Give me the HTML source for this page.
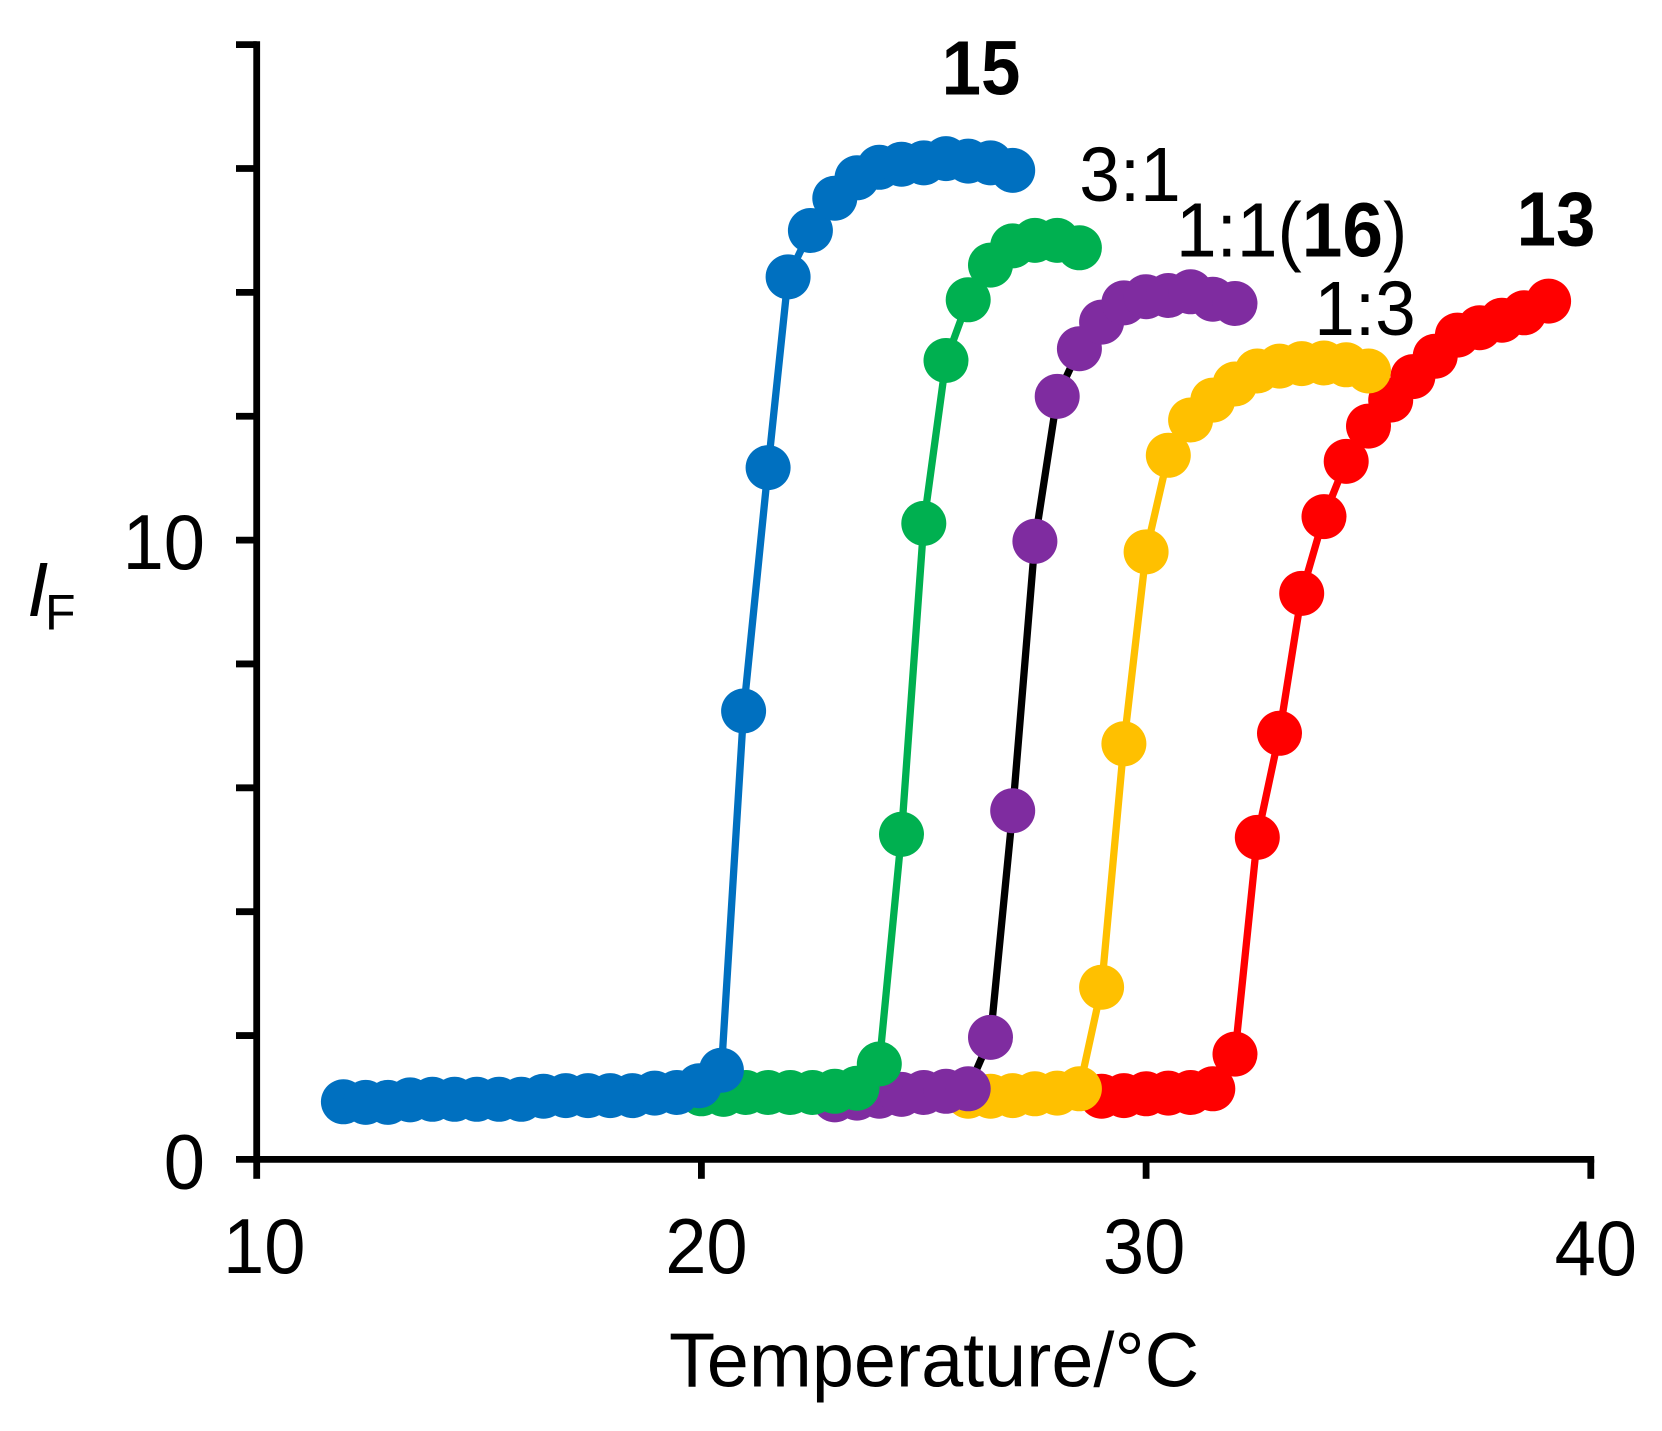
<!DOCTYPE html>
<html lang="en">
<head>
<meta charset="utf-8">
<title>Fluorescence intensity vs temperature</title>
<style>
html,body{margin:0;padding:0;background:#fff;}
svg{display:block;font-family:"Liberation Sans",Arial,sans-serif;}
</style>
</head>
<body>
<svg id="chart" xmlns="http://www.w3.org/2000/svg" width="1662" height="1431" viewBox="0 0 1662 1431">
  <rect width="1662" height="1431" fill="#ffffff"/>
  <g id="series-layer"></g>
  <g id="axis-layer"></g>
  <text x="27" y="616" font-size="77" font-style="italic">I</text>
  <text x="45" y="629.5" font-size="50">F</text>
  <text transform="translate(669,1386.5) scale(0.982,1)" font-size="77">Temperature/°C</text>
  <text transform="translate(981,94.5) scale(0.92,1)" font-size="77" font-weight="bold" text-anchor="middle">15</text>
  <text transform="translate(1130,201) scale(0.948,1)" font-size="77" text-anchor="middle">3:1</text>
  <text transform="translate(1176,256.5) scale(0.948,1)" font-size="77">1:1(<tspan font-weight="bold">16</tspan>)</text>
  <text transform="translate(1365,335) scale(0.948,1)" font-size="77" text-anchor="middle">1:3</text>
  <text transform="translate(1556,245.5) scale(0.92,1)" font-size="77" font-weight="bold" text-anchor="middle">13</text>
</svg>
<script>
const xTicks = [10, 20, 30, 40];
const xTickLabels = ["10", "20", "30", "40"];
const yTicks = [0, 2, 4, 6, 8, 10, 12, 14, 16, 18];
const yTickLabelValues = [0, 10];
const yTickLabels = ["0", "10"];

const tempBlue = [11.95,12.45,12.95,13.45,13.95,14.45,14.95,15.45,15.95,16.45,16.95,17.45,17.95,18.45,18.95,19.45,19.95,20.45,20.95,21.5,21.95,22.45,23,23.5,24,24.5,25,25.5,26,26.5,27];
const valuesBlue = [0.93,0.92,0.92,0.96,0.97,0.97,0.97,0.97,0.97,1.02,1.03,1.03,1.03,1.03,1.07,1.08,1.19,1.44,7.24,11.17,14.25,15.0,15.52,15.85,16.02,16.07,16.09,16.16,16.12,16.09,15.97];

const tempGreen = [20,20.5,21,21.5,22,22.5,23,23.5,24,24.5,25,25.5,26,26.5,27,27.5,28,28.5];
const valuesGreen = [1.06,1.05,1.08,1.08,1.08,1.08,1.1,1.15,1.54,5.25,10.27,12.9,13.88,14.44,14.75,14.84,14.84,14.72];

const tempPurple = [23,23.5,24,24.5,25,25.5,26,26.5,27,27.5,28,28.5,29,29.5,30,30.5,31,31.5,32];
const valuesPurple = [0.96,0.99,1.02,1.05,1.08,1.1,1.14,1.97,5.63,9.98,12.32,13.09,13.52,13.83,13.93,13.95,14.01,13.89,13.82];

const tempYellow = [26,26.5,27,27.5,28,28.5,29,29.5,30,30.5,31,31.5,32,32.5,33,33.5,34,34.5,35];
const valuesYellow = [1.02,1.02,1.03,1.06,1.07,1.14,2.78,6.71,9.81,11.37,11.94,12.26,12.52,12.73,12.81,12.85,12.86,12.83,12.73];

const tempRed = [29,29.5,30,30.5,31,31.5,32,32.5,33,33.5,34,34.5,35,35.5,36,36.5,37,37.5,38,38.5,39.05];
const valuesRed = [1.02,1.03,1.06,1.07,1.08,1.14,1.7,5.2,6.88,9.14,10.38,11.27,11.84,12.26,12.64,12.97,13.31,13.43,13.55,13.67,13.86];

const NS = "http://www.w3.org/2000/svg";
const xScale = v => 256.7 + (v - 10) * 44.47;
const yScale = v => 1159.4 - v * 61.93;

function make(tag, attrs, parent) {
  const el = document.createElementNS(NS, tag);
  for (const k in attrs) el.setAttribute(k, attrs[k]);
  parent.appendChild(el);
  return el;
}

const seriesLayer = document.getElementById("series-layer");
const axisLayer = document.getElementById("axis-layer");

function drawSeries(key, temps, values, lineColor, markerColor) {
  const g = make("g", {}, seriesLayer);
  
  
  const pts = temps.map((t, i) => xScale(t).toFixed(1) + "," + yScale(values[i]).toFixed(1)).join(" ");
  const line = make("polyline", {points: pts, fill: "none", stroke: lineColor, "stroke-width": 7.3, "stroke-linejoin": "round"}, g);
  
  
  temps.forEach((t, i) => {
    const c = make("circle", {cx: xScale(t).toFixed(1), cy: yScale(values[i]).toFixed(1), r: 22.5, fill: markerColor}, g);
    
    
  });
}

drawSeries("13", tempRed, valuesRed, "#FF0000", "#FF0000");
drawSeries("1-3", tempYellow, valuesYellow, "#FFC000", "#FFC000");
drawSeries("1-1-16", tempPurple, valuesPurple, "#000000", "#7F2CA0");
drawSeries("3-1", tempGreen, valuesGreen, "#00B050", "#00B050");
drawSeries("15", tempBlue, valuesBlue, "#0070C0", "#0070C0");

const axisX = make("line", {x1: xScale(10) - 3.4, x2: xScale(40) + 3.4, y1: yScale(0), y2: yScale(0), stroke: "#000", "stroke-width": 6.8}, axisLayer);


const axisY = make("line", {x1: xScale(10), x2: xScale(10), y1: yScale(18) - 3.4, y2: yScale(0) + 3.4, stroke: "#000", "stroke-width": 6.8}, axisLayer);



function placeLabel(x, y, sx, str) {
  const lab = make("text", {transform: "translate(" + x + "," + y + ") scale(" + sx + ",1)", "font-size": 78, "text-anchor": "middle"}, axisLayer);
  lab.textContent = str;
  return lab;
}

function xLabelNudge(v) {
  if (v === 10) return [7.5, 0];
  if (v === 20) return [5, 0];
  if (v === 30) return [-2, 0];
  return [5, 2];
}

xTicks.forEach((v, i) => {
  const t = make("line", {x1: xScale(v), x2: xScale(v), y1: yScale(0), y2: yScale(0) + 19.4, stroke: "#000", "stroke-width": 6.8}, axisLayer);
  
  
  const n = xLabelNudge(v);
  const lab = placeLabel(xScale(v) + n[0], 1273 + n[1], 0.95, xTickLabels[i]);
  
  
});

yTicks.forEach(v => {
  const t = make("line", {x1: xScale(10) - 20.7, x2: xScale(10), y1: yScale(v), y2: yScale(v), stroke: "#000", "stroke-width": 6.8}, axisLayer);
  
  
});

yTickLabelValues.forEach((v, i) => {
  const lab = make("text", {transform: "translate(205," + (yScale(v) + 29) + ") scale(0.95,1)", "font-size": 78, "text-anchor": "end"}, axisLayer);
  
  
  lab.textContent = yTickLabels[i];
});
</script>
</body>
</html>
